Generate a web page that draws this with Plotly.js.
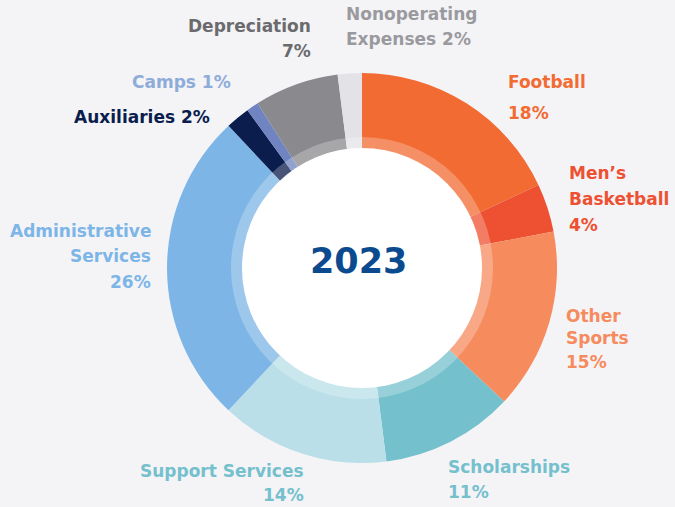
<!DOCTYPE html>
<html>
<head>
<meta charset="utf-8">
<script src="https://cdn.plot.ly/plotly-3.0.1.min.js"></script>
<style>html,body{margin:0;padding:0;background:#F4F4F7;}#chart{width:675px;height:507px;}</style>
</head>
<body>
<div id="chart"></div>
<script>
var categories = ["Football", "Men\u2019s Basketball", "Other Sports", "Scholarships", "Support Services", "Administrative Services", "Auxiliaries", "Camps", "Depreciation", "Nonoperating Expenses"];
var shares = [18, 4, 15, 11, 14, 26, 2, 1, 7, 2];
var sliceColors = ["#F26B33", "#EE5131", "#F68B5E", "#75C0CD", "#BADFE8", "#7DB6E6", "#0B1D4D", "#6F84C1", "#8A8A8E", "#E3E3E7"];
var labelColors = ["#F26B33", "#EE5131", "#F68B5E", "#75C0CD", "#75C0CD", "#7DB6E6", "#0B1D4D", "#8EACD9", "#6B6B6D", "#9A9A9E"];
var centerLabel = "2023";

var W = 675, H = 507;
var cx = 362, cy = 268, R = 195;
function px(x) { return x / W; }
function py(y) { return 1 - y / H; }

// label layout: [category index, lines, anchor, x, [line center ys]]
var labelSpecs = [
  [0, [categories[0], shares[0] + "%"], "left", 506, [82, 113]],
  [1, ["Men\u2019s", "Basketball", shares[1] + "%"], "left", 567, [173, 199, 225]],
  [2, ["Other<br>Sports", shares[2] + "%"], "left", 564, [327, 362]],
  [3, [categories[3], shares[3] + "%"], "left", 446, [467, 492]],
  [4, [categories[4], shares[4] + "%"], "right", 306, [471, 495]],
  [5, ["Administrative", "Services", shares[5] + "%"], "right", 153, [231, 256, 282]],
  [6, [categories[6] + " " + shares[6] + "%"], "right", 212, [117]],
  [7, [categories[7] + " " + shares[7] + "%"], "right", 233, [82]],
  [8, [categories[8], shares[8] + "%"], "right", 313, [26, 51]],
  [9, ["Nonoperating", "Expenses " + shares[9] + "%"], "left", 344, [14, 39]]
];

var annotations = [];
labelSpecs.forEach(function (s) {
  s[1].forEach(function (line, i) {
    annotations.push({
      xref: "paper", yref: "paper", x: px(s[3]), y: py(s[4][i]),
      xanchor: s[2], yanchor: "middle", showarrow: false, text: line, align: s[2],
      font: {family: "DejaVu Sans", size: 17, color: labelColors[s[0]], weight: 700}
    });
  });
});
annotations.push({
  xref: "paper", yref: "paper", x: px(358), y: py(261), xanchor: "center", yanchor: "middle",
  showarrow: false, text: centerLabel,
  font: {family: "DejaVu Sans", size: 35, color: "#0B4A8F", weight: 700}
});

function circle(r, fill) {
  return {type: "circle", xref: "paper", yref: "paper", layer: "above",
    x0: px(cx - r), x1: px(cx + r), y0: py(cy + r), y1: py(cy - r),
    fillcolor: fill, line: {width: 0}};
}

var trace = {
  type: "pie", labels: categories, values: shares, sort: false, direction: "clockwise", rotation: 0,
  hole: 0.58, textinfo: "none", hoverinfo: "none", showlegend: false,
  marker: {colors: sliceColors, line: {width: 0}},
  domain: {x: [px(cx - R), px(cx + R)], y: [py(cy + R), py(cy - R)]}
};

var layout = {
  width: W, height: H, margin: {l: 0, r: 0, t: 0, b: 0},
  paper_bgcolor: "#F4F4F7", plot_bgcolor: "#F4F4F7",
  shapes: [circle(131, "rgba(255,255,255,0.25)"), circle(120, "#FFFFFF")],
  annotations: annotations
};

Plotly.newPlot("chart", [trace], layout, {displayModeBar: false, staticPlot: true});
</script>
</body>
</html>
